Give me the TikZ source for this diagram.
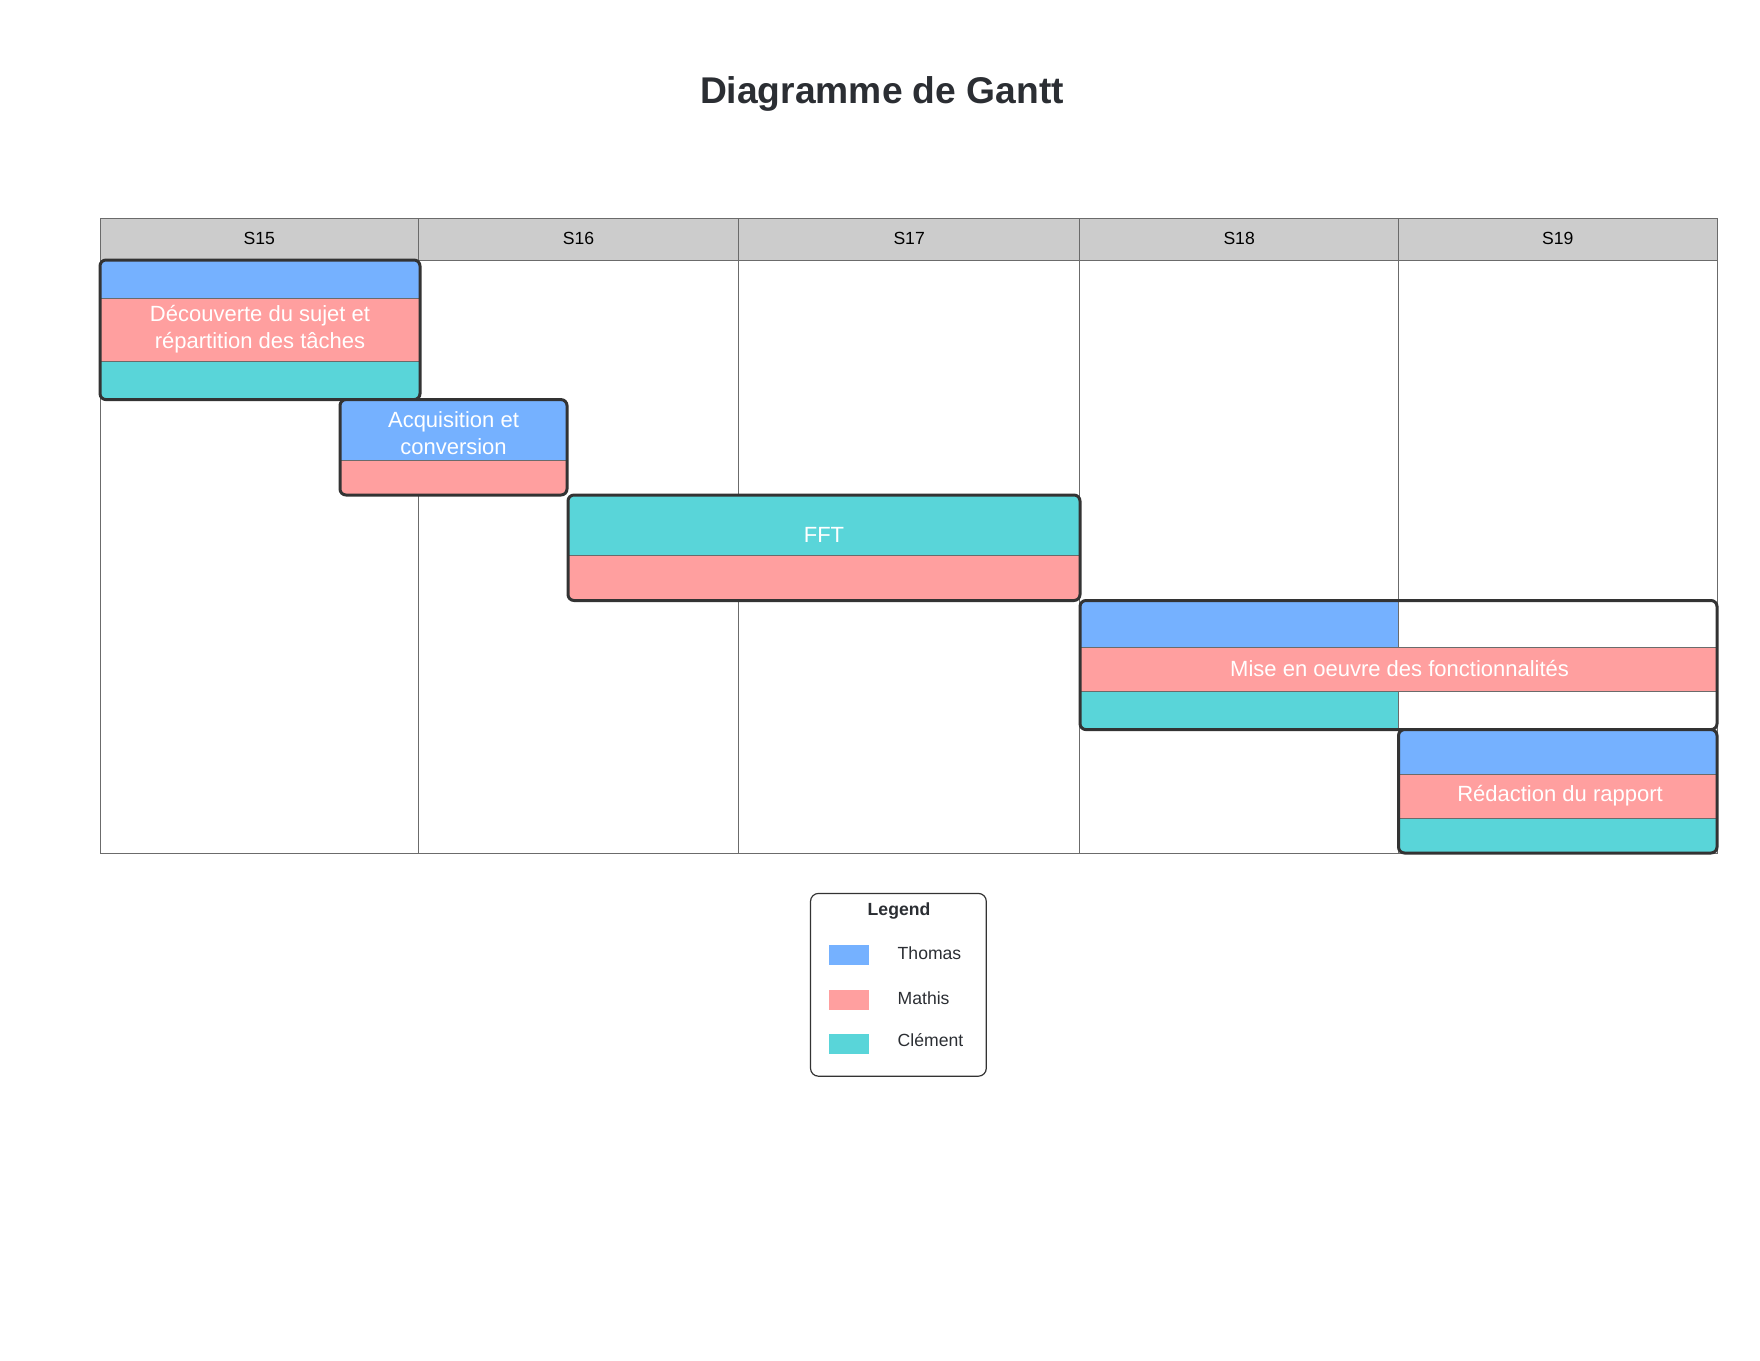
\documentclass[tikz,border=0pt]{standalone}
\usepackage{fontspec}
\setmainfont{Liberation Sans}
\usepackage{tikz}
\usetikzlibrary{positioning}
\definecolor{thomascolor}{HTML}{75B1FF}
\definecolor{mathiscolor}{HTML}{FF9F9F}
\definecolor{clementcolor}{HTML}{59D5D9}
\definecolor{headcolor}{HTML}{CCCCCC}
\definecolor{gridcolor}{HTML}{6B6B6B}
\definecolor{framecolor}{HTML}{333333}
\definecolor{titlecolor}{HTML}{2B2E33}

\begin{document}
\begin{tikzpicture}[
    x=0.5pt, y=-0.5pt,
    gridline/.style={draw=gridcolor, line width=0.5pt},
    band/.style={draw=gridcolor, line width=0.5pt},
    taskframe/.style={draw=framecolor, line width=1.5pt, rounded corners=3pt},
    tasklabel/.style={text=white, align=center, inner sep=0pt,
                      font=\fontsize{11}{13.5}\selectfont},
    weeklabel/.style={font=\fontsize{8.8}{10}\selectfont, inner sep=0pt},
    legendlabel/.style={font=\fontsize{8.8}{10}\selectfont, text=titlecolor,
                        anchor=west, inner sep=0pt},
    swatch/.style={minimum width=20pt, minimum height=10pt, inner sep=0pt}
]
    \useasboundingbox (0,0) rectangle (1760,1360);

    % title
    \node[font=\fontsize{18.6}{22}\selectfont\bfseries, text=titlecolor] (title) at (882,93.5) {Diagramme de Gantt};

    % grid and weeks
    \filldraw[gridline, fill=headcolor] (100,218) rectangle (1717,260);
    \draw[gridline] (100,260) rectangle (1717,853);
    \foreach \xs in {418.7, 738.5, 1079.8, 1398.5}
        \draw[gridline] (\xs,218) -- (\xs,853);
    \foreach \name/\xa/\xb in {S15/100/418.7, S16/418.7/738.5, S17/738.5/1079.8,
                               S18/1079.8/1398.5, S19/1398.5/1717}
        \node[weeklabel] (\name) at ({(\xa+\xb)/2},238) {\name};

    % task 1
    \begin{scope}
        \clip[rounded corners=3pt] (100,260) rectangle (420,399.6);
        \filldraw[band, fill=thomascolor] (100,260) rectangle (420,298.6);
        \filldraw[band, fill=mathiscolor] (100,298.6) rectangle (420,361.4);
        \filldraw[band, fill=clementcolor] (100,361.4) rectangle (420,399.6);
    \end{scope}
    \draw[taskframe] (100,260) rectangle (420,399.6);
    \node[tasklabel] (t1) at (260,329.5) {Découverte du sujet et\\répartition des tâches};

    % task 2
    \begin{scope}
        \clip[rounded corners=3pt] (340,399.6) rectangle (567,495);
        \filldraw[band, fill=thomascolor] (340,399.6) rectangle (567,460.2);
        \filldraw[band, fill=mathiscolor] (340,460.2) rectangle (567,495);
    \end{scope}
    \draw[taskframe] (340,399.6) rectangle (567,495);
    \node[tasklabel] (t2) at (453.5,433.5) {Acquisition et\\conversion};

    % task 3
    \begin{scope}
        \clip[rounded corners=3pt] (568,495) rectangle (1080,600.5);
        \filldraw[band, fill=clementcolor] (568,495) rectangle (1080,555.6);
        \filldraw[band, fill=mathiscolor] (568,555.6) rectangle (1080,600.5);
    \end{scope}
    \draw[taskframe] (568,495) rectangle (1080,600.5);
    \node[tasklabel] (t3) at (824,535) {FFT};

    % task 4
    \begin{scope}
        \clip[rounded corners=3pt] (1080,600.5) rectangle (1717,729.6);
        \fill[white] (1080,600.5) rectangle (1717,729.6);
        \filldraw[band, fill=thomascolor] (1080,600.5) rectangle (1398.5,647.6);
        \filldraw[band, fill=mathiscolor] (1080,647.6) rectangle (1717,691.4);
        \filldraw[band, fill=clementcolor] (1080,691.4) rectangle (1398.5,729.6);
    \end{scope}
    \draw[taskframe] (1080,600.5) rectangle (1717,729.6);
    \node[tasklabel] (t4) at (1399.6,668) {Mise en oeuvre des fonctionnalités};

    % task 5
    \begin{scope}
        \clip[rounded corners=3pt] (1398.5,729.6) rectangle (1717,853);
        \filldraw[band, fill=thomascolor] (1398.5,729.6) rectangle (1717,774.5);
        \filldraw[band, fill=mathiscolor] (1398.5,774.5) rectangle (1717,818.2);
        \filldraw[band, fill=clementcolor] (1398.5,818.2) rectangle (1717,853);
    \end{scope}
    \draw[taskframe] (1398.5,729.6) rectangle (1717,853);
    \node[tasklabel] (t5) at (1560,795.5) {Rédaction du rapport};

    % legend
    \draw[draw=framecolor, line width=0.6pt, rounded corners=4pt] (810.5,893.4) rectangle (986.3,1076.2);
    \node[font=\fontsize{8.8}{10}\selectfont\bfseries, text=titlecolor] (legend) at (899,911) {Legend};
    \node[swatch, fill=thomascolor] (swthomas) at (849,955) {};
    \node[swatch, fill=mathiscolor] (swmathis) at (849,1000) {};
    \node[swatch, fill=clementcolor] (swclement) at (849,1044) {};
    \node[legendlabel] (lthomas) at (897.3,953) {Thomas};
    \node[legendlabel] (lmathis) at (897.3,998.5) {Mathis};
    \node[legendlabel] (lclement) at (897.3,1040.5) {Clément};
\end{tikzpicture}
\end{document}
